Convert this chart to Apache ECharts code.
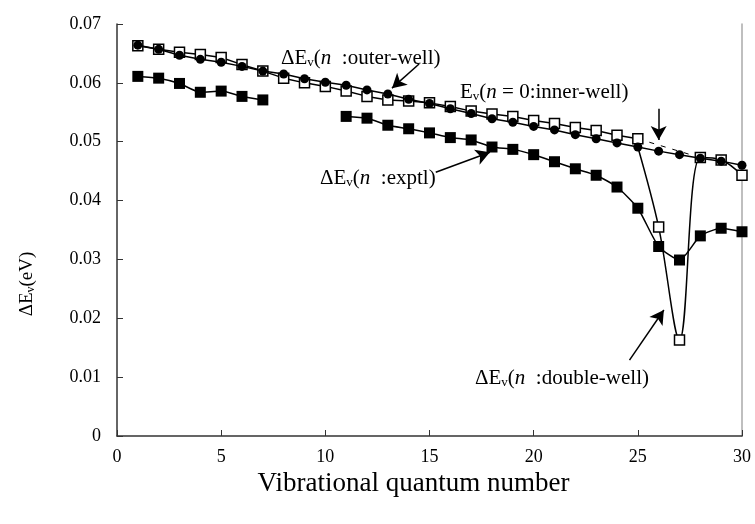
<!DOCTYPE html>
<html>
<head>
<meta charset="utf-8">
<script src="https://cdn.jsdelivr.net/npm/echarts@6/dist/echarts.min.js"></script>
<style>
  html, body { margin: 0; padding: 0; background: #fff; }
  #chart { width: 755px; height: 524px; }
</style>
</head>
<body>
<div id="chart"></div>
<script>
// vibrational quantum numbers
const nInner = [1, 2, 3, 4, 5, 6, 7, 8, 9, 10, 11, 12, 13, 14, 15, 16, 17, 18, 19, 20, 21, 22, 23, 24, 25, 26, 27, 28, 29, 30]
const nOuter = [1, 2, 3, 4, 5, 6, 7, 8, 9, 10, 11, 12, 13, 14, 15, 16, 17, 18, 19, 20, 21, 22, 23, 24, 25]
const nDouble = [25, 26, 27, 28, 29, 30]
const nOuterTail = [25, 28]
const nExptl = [1, 2, 3, 4, 5, 6, 7, 8, 9, 10, 11, 12, 13, 14, 15, 16, 17, 18, 19, 20, 21, 22, 23, 24, 25, 26, 27, 28, 29, 30]

// ΔEv in eV
const innerWell = [0.0664, 0.0657, 0.0647, 0.0640, 0.0635, 0.0628, 0.0620, 0.0615, 0.0607, 0.0601,
  0.0596, 0.0588, 0.0581, 0.0572, 0.0565, 0.0556, 0.0548, 0.0539, 0.0533, 0.0526,
  0.0520, 0.0512, 0.0505, 0.0498, 0.0491, 0.0484, 0.0478, 0.0472, 0.0467, 0.0460]
const outerWell = [0.0663, 0.0657, 0.0652, 0.0648, 0.0643, 0.0631, 0.0620, 0.0608, 0.0600, 0.0594,
  0.0586, 0.0577, 0.0571, 0.0569, 0.0566, 0.0560, 0.0552, 0.0547, 0.0543, 0.0536,
  0.0531, 0.0524, 0.0519, 0.0511, 0.0505]
const doubleWell = [0.0491, 0.0355, 0.0163, 0.0473, 0.0469, 0.0443]
const outerTail = [0.0505, 0.0473]
const exptl = [0.0611, 0.0608, 0.0599, 0.0584, 0.0586, 0.0577, 0.0571, null, null, null,
  0.0543, 0.0540, 0.0528, 0.0522, 0.0515, 0.0507, 0.0503, 0.0491, 0.0487, 0.0478,
  0.0466, 0.0454, 0.0443, 0.0423, 0.0387, 0.0322, 0.0299, 0.0340, 0.0353, 0.0347]

const yTicks = ['0', '0.01', '0.02', '0.03', '0.04', '0.05', '0.06', '0.07']

const FONT = 'Liberation Serif'

function pairs(xs, ys) {
  return xs.map((x, i) => [x, ys[i]])
}

const richText = {
  a: { fontFamily: FONT, fontSize: 21, color: '#000' },
  s: { fontFamily: FONT, fontSize: 13, color: '#000', padding: [10, 0, 0, 0] },
  i: { fontFamily: FONT, fontSize: 21, fontStyle: 'italic', color: '#000' }
}

function note(x, y, text) {
  return {
    type: 'text',
    x: x,
    y: y,
    silent: true,
    style: { text: text, rich: richText, verticalAlign: 'middle', align: 'left' }
  }
}

const arrowStyle = { color: '#000', width: 1.5, type: 'solid' }

const chart = echarts.init(document.getElementById('chart'))
chart.setOption({
  animation: false,
  backgroundColor: '#fff',
  grid: { left: 117, right: 13, top: 24, bottom: 88 },
  xAxis: {
    type: 'value',
    min: 0,
    max: 30,
    interval: 5,
    name: 'Vibrational quantum number',
    nameLocation: 'middle',
    nameGap: 27,
    nameTextStyle: { fontFamily: FONT, fontSize: 27, color: '#000', padding: [0, 32, 0, 0] },
    axisLine: { lineStyle: { color: '#333', width: 1.5 } },
    axisTick: { inside: true, length: 6, lineStyle: { color: '#333' } },
    axisLabel: { fontFamily: FONT, fontSize: 18, color: '#000', margin: 12 },
    splitLine: { show: false }
  },
  yAxis: [{
    type: 'value',
    min: 0,
    max: 0.07,
    interval: 0.01,
    axisLine: { show: true, lineStyle: { color: '#333', width: 1.5 } },
    axisTick: { show: true, inside: true, length: 6, lineStyle: { color: '#333' } },
    axisLabel: {
      fontFamily: FONT, fontSize: 18, color: '#000', margin: 16,
      formatter: (v) => yTicks[Math.round(v * 100)]
    },
    splitLine: { show: false }
  }, {
    type: 'value',
    min: 0,
    max: 0.07,
    position: 'right',
    axisLine: { show: true, lineStyle: { color: '#aaa', width: 1.5 } },
    axisTick: { show: false },
    axisLabel: { show: false },
    splitLine: { show: false }
  }],
  series: [{
    name: 'outer-well',
    type: 'line',
    data: pairs(nOuter, outerWell),
    symbol: 'rect',
    symbolSize: 10,
    itemStyle: { color: '#fff', borderColor: '#000', borderWidth: 1.5 },
    lineStyle: { color: '#000', width: 1.5 },
    z: 2
  }, {
    name: 'outer-well tail',
    type: 'line',
    data: pairs(nOuterTail, outerTail),
    symbol: 'none',
    lineStyle: { color: '#000', width: 1, type: [5, 7] },
    z: 2
  }, {
    name: 'double-well',
    type: 'line',
    data: pairs(nDouble, doubleWell).map((p, i) => i === 0 ? { value: p, symbol: 'none' } : p),
    smooth: 0.35,
    symbol: 'rect',
    symbolSize: 10,
    itemStyle: { color: '#fff', borderColor: '#000', borderWidth: 1.5 },
    lineStyle: { color: '#000', width: 1.5 },
    z: 2
  }, {
    name: 'inner-well',
    type: 'line',
    data: pairs(nInner, innerWell),
    symbol: 'circle',
    symbolSize: 9,
    itemStyle: { color: '#000' },
    lineStyle: { color: '#000', width: 1.5 },
    z: 3
  }, {
    name: 'exptl',
    type: 'line',
    data: pairs(nExptl, exptl),
    connectNulls: false,
    smooth: 0.2,
    symbol: 'rect',
    symbolSize: 11,
    itemStyle: { color: '#000' },
    lineStyle: { color: '#000', width: 1.5 },
    z: 4,
    markLine: {
      silent: true,
      animation: false,
      symbol: ['none', 'arrow'],
      symbolSize: [12, 14],
      label: { show: false },
      lineStyle: arrowStyle,
      data: [
        [{ coord: [14.5, 0.0632] }, { coord: [13.2, 0.0591] }],
        [{ coord: [26.0, 0.0556] }, { coord: [26.0, 0.0503] }],
        [{ coord: [15.3, 0.0448] }, { coord: [17.9, 0.0482] }],
        [{ coord: [24.6, 0.0129] }, { coord: [26.25, 0.0214] }]
      ]
    }
  }],
  graphic: [
    {
      type: 'text',
      x: 27,
      y: 284,
      rotation: Math.PI / 2,
      silent: true,
      style: {
        text: '{a|ΔE}{s|v}{a|(eV)}',
        align: 'center',
        verticalAlign: 'middle',
        rich: {
          a: { fontFamily: FONT, fontSize: 19, color: '#000' },
          s: { fontFamily: FONT, fontSize: 12, color: '#000', padding: [8, 0, 0, 0] }
        }
      }
    },
    note(281, 58, '{a|ΔE}{s|v}{a|(}{i|n}{a|  :outer-well)}'),
    note(460, 92, '{a|E}{s|v}{a|(}{i|n}{a| = 0:inner-well)}'),
    note(320, 178, '{a|ΔE}{s|v}{a|(}{i|n}{a|  :exptl)}'),
    note(475, 378, '{a|ΔE}{s|v}{a|(}{i|n}{a|  :double-well)}')
  ]
})
</script>
</body>
</html>
